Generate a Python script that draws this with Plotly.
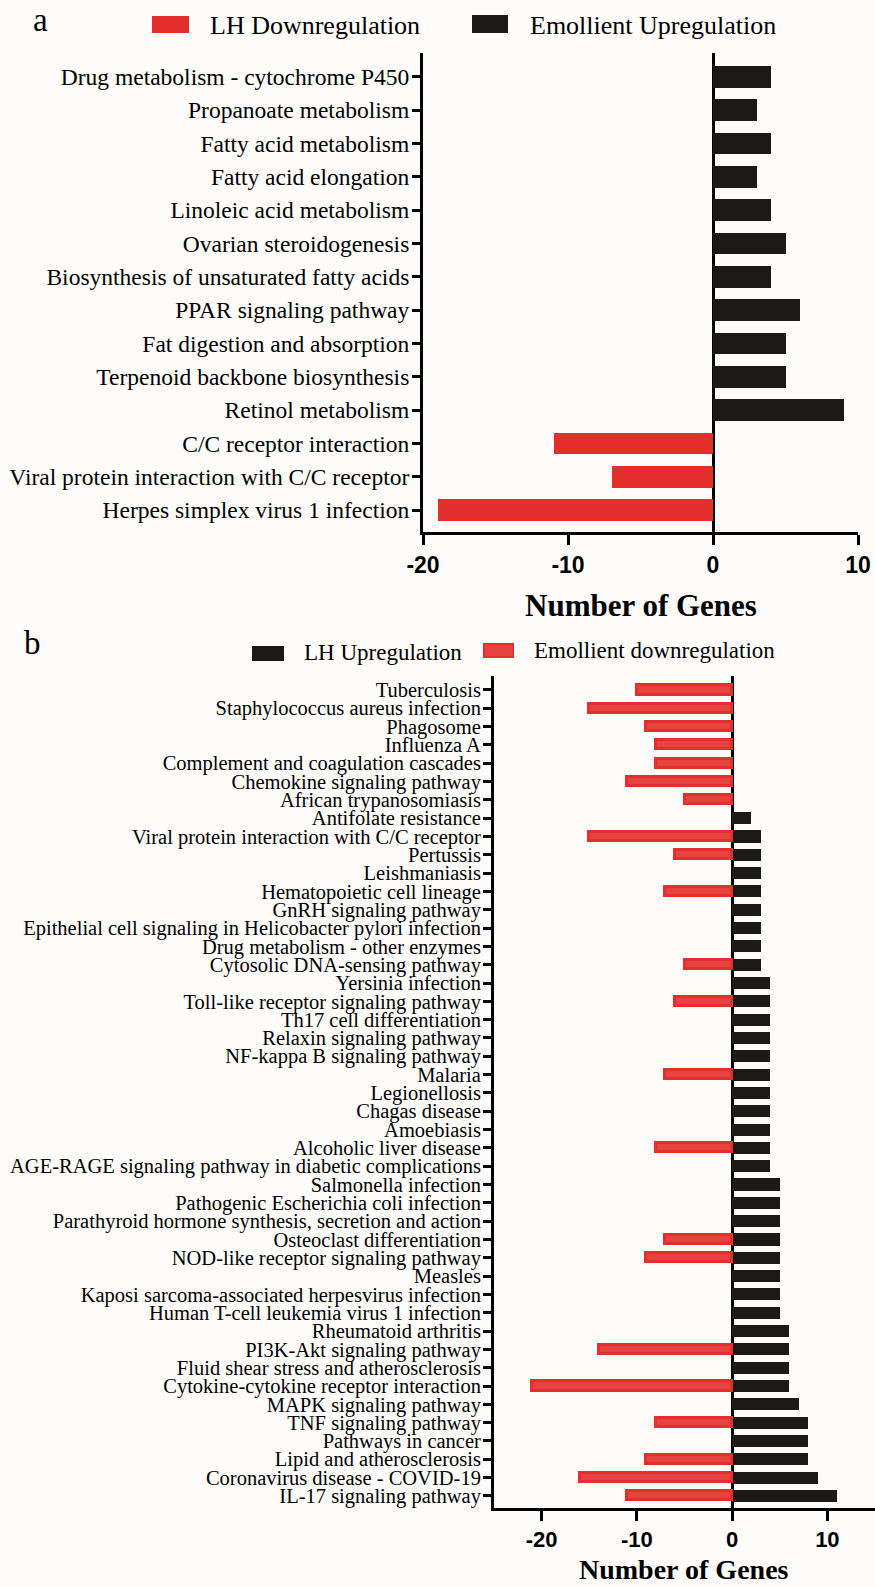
import plotly.graph_objects as go

# ---- panel a data ----
pathways_a = [
    "Drug metabolism - cytochrome P450",
    "Propanoate metabolism",
    "Fatty acid metabolism",
    "Fatty acid elongation",
    "Linoleic acid metabolism",
    "Ovarian steroidogenesis",
    "Biosynthesis of unsaturated fatty acids",
    "PPAR signaling pathway",
    "Fat digestion and absorption",
    "Terpenoid backbone biosynthesis",
    "Retinol metabolism",
    "C/C receptor interaction",
    "Viral protein interaction with C/C receptor",
    "Herpes simplex virus 1 infection",
]
lh_down_a = [None, None, None, None, None, None, None, None, None, None, None, -11, -7, -19]
emollient_up_a = [4, 3, 4, 3, 4, 5, 4, 6, 5, 5, 9, None, None, None]

# ---- panel b data ----
pathways_b = [
    "Tuberculosis",
    "Staphylococcus aureus infection",
    "Phagosome",
    "Influenza A",
    "Complement and coagulation cascades",
    "Chemokine signaling pathway",
    "African trypanosomiasis",
    "Antifolate resistance",
    "Viral protein interaction with C/C receptor",
    "Pertussis",
    "Leishmaniasis",
    "Hematopoietic cell lineage",
    "GnRH signaling pathway",
    "Epithelial cell signaling in Helicobacter pylori infection",
    "Drug metabolism - other enzymes",
    "Cytosolic DNA-sensing pathway",
    "Yersinia infection",
    "Toll-like receptor signaling pathway",
    "Th17 cell differentiation",
    "Relaxin signaling pathway",
    "NF-kappa B signaling pathway",
    "Malaria",
    "Legionellosis",
    "Chagas disease",
    "Amoebiasis",
    "Alcoholic liver disease",
    "AGE-RAGE signaling pathway in diabetic complications",
    "Salmonella infection",
    "Pathogenic Escherichia coli infection",
    "Parathyroid hormone synthesis, secretion and action",
    "Osteoclast differentiation",
    "NOD-like receptor signaling pathway",
    "Measles",
    "Kaposi sarcoma-associated herpesvirus infection",
    "Human T-cell leukemia virus 1 infection",
    "Rheumatoid arthritis",
    "PI3K-Akt signaling pathway",
    "Fluid shear stress and atherosclerosis",
    "Cytokine-cytokine receptor interaction",
    "MAPK signaling pathway",
    "TNF signaling pathway",
    "Pathways in cancer",
    "Lipid and atherosclerosis",
    "Coronavirus disease - COVID-19",
    "IL-17 signaling pathway",
]
lh_up_b = [
    None, None, None, None, None, None, None,      # Tuberculosis .. African trypanosomiasis
    2,                                             # Antifolate resistance
    3, 3, 3, 3, 3, 3, 3, 3,                        # Viral protein .. Cytosolic DNA-sensing
    4, 4, 4, 4, 4, 4, 4, 4, 4, 4, 4,               # Yersinia .. AGE-RAGE
    5, 5, 5, 5, 5, 5, 5, 5,                        # Salmonella .. Human T-cell leukemia
    6, 6, 6, 6,                                    # Rheumatoid .. Cytokine-cytokine
    7,                                             # MAPK
    8, 8, 8,                                       # TNF, Pathways in cancer, Lipid
    9,                                             # COVID-19
    11,                                            # IL-17
]
emollient_down_b = [
    -10, -15, -9, -8, -8, -11, -5,                 # Tuberculosis .. African trypanosomiasis
    None, -15, -6, None, -7, None, None, None, -5, # Antifolate .. Cytosolic DNA-sensing
    None, -6, None, None, None, -7, None, None, None, -8, None,   # Yersinia .. AGE-RAGE
    None, None, None, -7, -9, None, None, None,    # Salmonella .. Human T-cell leukemia
    None, -14, None, -21,                          # Rheumatoid .. Cytokine-cytokine
    None,                                          # MAPK
    -8, None, -9,                                  # TNF, Pathways in cancer, Lipid
    -16,                                           # COVID-19
    -11,                                           # IL-17
]

x_ticks = [-20, -10, 0, 10]
x_tick_text = ["-20", "-10", "0", "10"]

# ---- styling ----
W, H = 875, 1587
RED = "#e3302d"
RED_FILL = "#e6423f"
BLACK = "#1b1a18"
BG = "#fdfcfa"
SERIF = "Liberation Serif, Times New Roman, serif"
SANS = "Liberation Sans, Arial, sans-serif"


def px(x):
    return x / W


def py(y):
    return 1 - y / H


fig = go.Figure()

# panel a bars
fig.add_trace(go.Bar(y=pathways_a, x=lh_down_a, orientation="h", name="LH Downregulation",
                     marker=dict(color=RED, line=dict(width=0)), width=0.65,
                     xaxis="x", yaxis="y", showlegend=False))
fig.add_trace(go.Bar(y=pathways_a, x=emollient_up_a, orientation="h", name="Emollient Upregulation",
                     marker=dict(color=BLACK, line=dict(width=0)), width=0.65,
                     xaxis="x", yaxis="y", showlegend=False))

# panel b bars
fig.add_trace(go.Bar(y=pathways_b, x=lh_up_b, orientation="h", name="LH Upregulation",
                     marker=dict(color=BLACK, line=dict(width=0)), width=0.66,
                     xaxis="x2", yaxis="y2", showlegend=False))
fig.add_trace(go.Bar(y=pathways_b, x=emollient_down_b, orientation="h", name="Emollient downregulation",
                     marker=dict(color=RED_FILL, line=dict(color=RED, width=3)), width=0.5,
                     xaxis="x2", yaxis="y2", showlegend=False))

axis_common = dict(showline=True, linecolor="black", linewidth=3, ticks="outside",
                   tickcolor="black", tickwidth=3, showgrid=False, mirror=False)

n_a = len(pathways_a)
n_b = len(pathways_b)

fig.update_layout(
    width=W, height=H,
    margin=dict(l=0, r=0, t=0, b=0, autoexpand=False),
    paper_bgcolor=BG, plot_bgcolor=BG,
    barmode="overlay",
    bargap=0,
    xaxis=dict(domain=[px(423), px(858)], anchor="y", range=[-20, 10],
               tickmode="array", tickvals=x_ticks, ticktext=x_tick_text, ticklen=10,
               tickfont=dict(family=SANS, size=23, color="black", weight="bold"),
               zeroline=True, zerolinecolor="black", zerolinewidth=3, **axis_common),
    yaxis=dict(domain=[py(532), py(53)], anchor="x", type="category",
               categoryorder="array", categoryarray=pathways_a,
               tickmode="linear", tick0=0, dtick=1,
               range=[n_a - 1 + 0.66, -0.71], ticklen=8, ticklabelstandoff=-2,
               tickfont=dict(family=SERIF, size=23.5, color="black"),
               zeroline=False, **axis_common),
    xaxis2=dict(domain=[px(494), px(875)], anchor="y2", range=[-25, 15],
                tickmode="array", tickvals=x_ticks, ticktext=x_tick_text, ticklen=10,
                tickfont=dict(family=SANS, size=22, color="black", weight="bold"),
                zeroline=True, zerolinecolor="black", zerolinewidth=3, **axis_common),
    yaxis2=dict(domain=[py(1508), py(676)], anchor="x2", type="category",
                categoryorder="array", categoryarray=pathways_b,
                tickmode="linear", tick0=0, dtick=1,
                range=[n_b - 1 + 0.66, -0.76], ticklen=8, ticklabelstandoff=-2,
                tickfont=dict(family=SERIF, size=20.5, color="black"),
                zeroline=False, **axis_common),
)

annotations = [
    dict(text="a", x=px(40), y=py(20), font=dict(family=SERIF, size=33, color="black")),
    dict(text="b", x=px(32), y=py(643), font=dict(family=SERIF, size=33, color="black")),
    dict(text="<b>Number of Genes</b>", x=px(641), y=py(605), font=dict(family=SERIF, size=31, color="black")),
    dict(text="<b>Number of Genes</b>", x=px(684), y=py(1569), font=dict(family=SERIF, size=28, color="black")),
]
# legend entries: (swatch x0, x1, y0, y1, text x, text y, label, fill, outline, font size)
legend_items = [
    (153, 188, 17, 32, 208, 25, "LH Downregulation", RED, RED, 26),
    (473, 507, 16, 32, 528, 25, "Emollient Upregulation", BLACK, BLACK, 26),
    (253, 283, 647, 660, 302, 652, "LH Upregulation", BLACK, BLACK, 23),
    (484, 513, 644, 657, 532, 650, "Emollient downregulation", RED_FILL, RED, 23),
]
shapes = []
for x0, x1, y0, y1, tx, ty, label, fill, outline, fs in legend_items:
    shapes.append(dict(type="rect", xref="paper", yref="paper",
                       x0=px(x0), x1=px(x1), y0=py(y1), y1=py(y0),
                       fillcolor=fill, line=dict(color=outline, width=2)))
    annotations.append(dict(text=label, x=px(tx), y=py(ty), xanchor="left",
                            font=dict(family=SERIF, size=fs, color="black")))

for a in annotations:
    a.setdefault("xanchor", "center")
    a.update(xref="paper", yref="paper", yanchor="middle", showarrow=False)

fig.update_layout(annotations=annotations, shapes=shapes)

fig.write_html("out.html")
